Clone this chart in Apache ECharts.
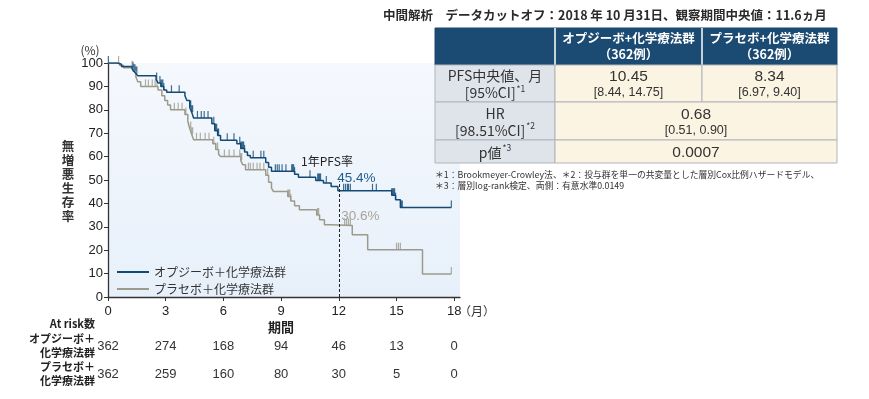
<!DOCTYPE html>
<html>
<head>
<meta charset="utf-8">
<script src="https://cdn.jsdelivr.net/npm/echarts@6/dist/echarts.min.js"></script>
<style>
  html, body { margin: 0; padding: 0; background: #fff; }
  #main { width: 869px; height: 399px; }
</style>
</head>
<body>
<div id="main"></div>
<script>
// 横軸（月）と At risk 数
const months = [0, 3, 6, 9, 12, 15, 18];
const nivoRisk = [362, 274, 168, 94, 46, 13, 0];
const placRisk = [362, 259, 160, 80, 30, 5, 0];

// オプジーボ+化学療法群 KM曲線（時点, 生存率%）
const nivoTime = [0, 0.5, 0.7, 1.25, 1.35, 1.45, 1.55, 2.5, 2.6, 2.75, 2.9, 3.05, 4.0, 4.1, 4.25, 4.35, 4.45,
  5.4, 5.55, 5.7, 5.85, 6.7, 6.9, 7.1, 7.25, 7.4, 8.2, 8.35, 8.5, 9.7, 9.9, 10.8, 11.2, 11.6, 11.95,
  14.75, 14.95, 15.2, 17.85];
const nivoSurv = [100, 99.5, 98.5, 97.5, 96.5, 95.5, 94.5, 93, 91.5, 90, 88.5, 87.5, 86, 84, 81, 79, 76.5,
  74, 71, 69, 67, 65.5, 63.5, 62, 60.5, 59.5, 57.5, 55.5, 53.7, 52.5, 51.2, 49.8, 48.7, 47.2, 45.4,
  43.5, 41.6, 38.2, 38.2];
const nivoCensor = [0.02, 1.3, 1.35, 1.4, 1.45, 1.5, 2.53, 2.7, 2.75, 2.8, 2.85, 2.9, 3.3, 3.7, 4.25, 4.3, 4.35,
  4.4, 4.65, 4.85, 5.0, 5.2, 5.5, 5.55, 5.6, 5.65, 5.7, 5.75, 6.2, 6.55, 6.85, 6.9, 6.95, 7.0, 7.05, 7.1,
  7.55, 7.95, 8.1, 8.7, 8.8, 8.9, 9.05, 9.25, 9.55, 9.6, 9.65, 9.7, 10.5, 10.9, 10.95, 11.0, 11.05, 11.35,
  12.25, 12.35, 12.45, 12.5, 12.6, 13.75, 13.95, 14.75, 14.8, 14.85, 14.9, 14.95, 15.25, 15.3, 17.85];

// プラセボ+化学療法群 KM曲線
const placTime = [0, 0.6, 0.8, 1.3, 1.45, 1.55, 1.7, 2.6, 2.8, 2.95, 3.1, 3.25, 4.0, 4.15, 4.25, 4.35, 4.45,
  5.45, 5.6, 5.75, 5.85, 6.9, 7.0, 7.15, 8.2, 8.35, 8.5, 8.6, 9.35, 9.5, 9.7, 9.95, 10.85, 11.0, 11.25, 11.6,
  12.7, 13.5, 16.35, 17.85];
const placSurv = [100, 99, 98, 96.5, 94, 92, 90, 88.5, 86, 84, 82, 80, 78, 75, 72, 69.5, 67.2,
  65.5, 63, 61, 60, 58.5, 56.5, 54.4, 52, 49, 46.5, 45.1, 43, 41, 39, 37.3, 35, 33, 30.9, 30.6,
  26.6, 20.2, 9.8, 9.8];
const placCensor = [0.55, 1.25, 1.3, 1.95, 2.1, 2.3, 2.45, 2.55, 3.45, 3.65, 3.85, 4.05, 4.3, 4.35, 4.4, 4.6,
  4.8, 5.05, 5.25, 5.5, 5.6, 5.7, 6.05, 6.3, 6.55, 6.85, 6.9, 6.95, 7.3, 7.4, 7.55, 7.75, 7.9, 8.1, 8.3,
  9.35, 9.4, 9.45, 9.5, 10.9, 10.95, 12.3, 12.4, 12.5, 12.6, 15.0, 15.1, 15.2, 17.85];

const pfs12 = [45.4, 30.6];

const NIVO = '#124a75';
const PLAC = '#9c9a8b';
const JP = '"Noto Sans CJK JP", sans-serif';
const NUM = '"Liberation Sans", Arial, sans-serif';

function zip(t, s) {
  return t.map((v, i) => [v, s[i]]);
}
function survAt(t, s, x) {
  let v = s[0];
  for (let i = 0; i < t.length; i++) {
    if (t[i] <= x) v = s[i];
  }
  return v;
}
function censorPoints(c, t, s) {
  return c.map((x) => [x, survAt(t, s, x)]);
}

// 右上の表
const colX = [435, 555, 702, 837];
const rowY = [28, 65, 102, 140, 163];
function cell(x0, x1, y0, y1, fill, stroke) {
  return {
    type: 'rect',
    shape: { x: x0, y: y0, width: x1 - x0, height: y1 - y0 },
    style: { fill: fill, stroke: stroke, lineWidth: 1 }
  };
}
function txt(x, y, text, rich, extra) {
  return {
    type: 'text', x: x, y: y,
    style: Object.assign({
      text: text, align: 'center', verticalAlign: 'middle',
      fontFamily: JP, fill: '#333', rich: rich || {}
    }, extra || {})
  };
}
const tableRich = {
  big: { fontSize: 15.5, fontFamily: NUM, fill: '#333', lineHeight: 17 },
  sm: { fontSize: 12.5, fontFamily: NUM, fill: '#333', lineHeight: 15 },
  lab: { fontSize: 14, fontFamily: JP, fill: '#333', lineHeight: 17 },
  sup: { fontSize: 8.5, fontFamily: JP, fill: '#333', verticalAlign: 'top', padding: [0, 0, 7, 1] }
};

const graphics = [];
// header
graphics.push(cell(colX[0], colX[3], rowY[0], rowY[1], '#1b4a72', '#1b4a72'));
graphics.push({ type: 'line', shape: { x1: colX[1], y1: rowY[0], x2: colX[1], y2: rowY[1] }, style: { stroke: '#fff', lineWidth: 1.5 } });
graphics.push({ type: 'line', shape: { x1: colX[2], y1: rowY[0], x2: colX[2], y2: rowY[1] }, style: { stroke: '#fff', lineWidth: 1.5 } });
// body
for (let r = 1; r < 4; r++) {
  graphics.push(cell(colX[0], colX[1], rowY[r], rowY[r + 1], '#dfe4ea', '#aeb5bd'));
  if (r === 1) {
    graphics.push(cell(colX[1], colX[2], rowY[r], rowY[r + 1], '#fcf4e2', '#aeb5bd'));
    graphics.push(cell(colX[2], colX[3], rowY[r], rowY[r + 1], '#fcf4e2', '#aeb5bd'));
  } else {
    graphics.push(cell(colX[1], colX[3], rowY[r], rowY[r + 1], '#fcf4e2', '#aeb5bd'));
  }
}
const hdrStyle = { fill: '#fff', fontSize: 12.5, fontWeight: 'bold', lineHeight: 16 };
graphics.push(txt((colX[1] + colX[2]) / 2, (rowY[0] + rowY[1]) / 2, 'オプジーボ+化学療法群\n（362例）', null, hdrStyle));
graphics.push(txt((colX[2] + colX[3]) / 2, (rowY[0] + rowY[1]) / 2, 'プラセボ+化学療法群\n（362例）', null, hdrStyle));

graphics.push(txt((colX[0] + colX[1]) / 2, (rowY[1] + rowY[2]) / 2 + 1, '{lab|PFS中央値、月}\n{lab|[95%CI]}{sup|*1}', tableRich));
graphics.push(txt((colX[1] + colX[2]) / 2, (rowY[1] + rowY[2]) / 2 + 1, '{big|10.45}\n{sm|[8.44, 14.75]}', tableRich));
graphics.push(txt((colX[2] + colX[3]) / 2, (rowY[1] + rowY[2]) / 2 + 1, '{big|8.34}\n{sm|[6.97, 9.40]}', tableRich));
graphics.push(txt((colX[0] + colX[1]) / 2, (rowY[2] + rowY[3]) / 2 + 1, '{lab|HR}\n{lab|[98.51%CI]}{sup|*2}', tableRich));
graphics.push(txt((colX[1] + colX[3]) / 2, (rowY[2] + rowY[3]) / 2 + 1, '{big|0.68}\n{sm|[0.51, 0.90]}', tableRich));
graphics.push(txt((colX[0] + colX[1]) / 2, (rowY[3] + rowY[4]) / 2 + 1, '{lab|p値}{sup|*3}', tableRich));
graphics.push(txt((colX[1] + colX[3]) / 2, (rowY[3] + rowY[4]) / 2 + 1, '{big|0.0007}', tableRich));

// 見出し・注釈
graphics.push(txt(383, 15, '中間解析　データカットオフ：2018 年 10 月31日、観察期間中央値：11.6ヵ月', null,
  { align: 'left', fontSize: 12.5, fontWeight: 'bold', fill: '#2a2a2a' }));
graphics.push(txt(435, 175, '＊1：Brookmeyer-Crowley法、＊2：投与群を単一の共変量とした層別Cox比例ハザードモデル、', null,
  { align: 'left', fontSize: 8.8, fill: '#333' }));
graphics.push(txt(435, 186, '＊3：層別log-rank検定、両側：有意水準0.0149', null,
  { align: 'left', fontSize: 8.8, fill: '#333' }));

// 軸まわりの文字
graphics.push(txt(90, 50, '(%)', null, { fontSize: 12, fill: '#333' }));
graphics.push(txt(68, 181, '無\n増\n悪\n生\n存\n率', null, { fontSize: 12.5, fontWeight: 'bold', lineHeight: 14, fill: '#333' }));
graphics.push(txt(477, 311, '（月）', null, { fontSize: 12, fill: '#333' }));
graphics.push(txt(281, 327, '期間', null, { fontSize: 13, fontWeight: 'bold', fill: '#222' }));
graphics.push(txt(95, 324, 'At risk数', null, { align: 'right', fontSize: 11, fontWeight: 'bold', fill: '#222' }));
graphics.push(txt(95, 346, 'オプジーボ＋\n化学療法群', null, { align: 'right', fontSize: 11, fontWeight: 'bold', lineHeight: 14, fill: '#222' }));
graphics.push(txt(95, 374, 'プラセボ＋\n化学療法群', null, { align: 'right', fontSize: 11, fontWeight: 'bold', lineHeight: 14, fill: '#222' }));
graphics.push(txt(327, 161, '1年PFS率', null, { fontSize: 12, fill: '#222' }));

const chart = echarts.init(document.getElementById('main'), null, { renderer: 'canvas' });

function riskAxis(offset, counts) {
  return {
    type: 'value', min: 0, max: 18.3, position: 'bottom', offset: offset,
    axisLine: { show: false }, axisTick: { show: false }, splitLine: { show: false },
    axisLabel: {
      customValues: months, margin: 8, fontSize: 13, fontFamily: NUM, color: '#333',
      formatter: (v) => String(counts[months.indexOf(v)])
    }
  };
}

const option = {
  animation: false,
  backgroundColor: '#fff',
  grid: {
    left: 108, top: 63, width: 352, height: 234, show: true, borderWidth: 0,
    backgroundColor: new echarts.graphic.LinearGradient(0, 0, 0, 1, [
      { offset: 0, color: '#f5f8fd' },
      { offset: 1, color: '#e7f0fa' }
    ])
  },
  legend: {
    orient: 'vertical', left: 112, top: 260, itemGap: 3,
    icon: 'rect', itemWidth: 32, itemHeight: 2,
    textStyle: { fontFamily: JP, fontSize: 12, color: '#333', lineHeight: 14 },
    data: ['オプジーボ＋化学療法群', 'プラセボ＋化学療法群']
  },
  xAxis: [
    {
      type: 'value', min: 0, max: 18.3,
      axisLine: { lineStyle: { color: '#333', width: 1.3 } },
      axisTick: { customValues: months, length: 4, lineStyle: { color: '#333' } },
      axisLabel: { customValues: months, margin: 8, fontSize: 13, fontFamily: NUM, color: '#222' },
      splitLine: { show: false }
    },
    riskAxis(35, nivoRisk),
    riskAxis(63, placRisk)
  ],
  yAxis: {
    type: 'value', min: 0, max: 100, interval: 10,
    axisLine: { show: true, lineStyle: { color: '#333', width: 1.3 } },
    axisTick: { show: true, length: 4, lineStyle: { color: '#333' } },
    axisLabel: { margin: 5, fontSize: 13, fontFamily: NUM, color: '#222' },
    splitLine: { show: false }
  },
  series: [
    {
      name: 'プラセボ＋化学療法群', type: 'line', step: 'end', showSymbol: false,
      data: zip(placTime, placSurv),
      lineStyle: { color: PLAC, width: 1.5 }, itemStyle: { color: PLAC },
      markPoint: {
        symbol: 'circle', symbolSize: 1, itemStyle: { color: 'rgba(0,0,0,0)' },
        data: [{ coord: [12, pfs12[1]], name: pfs12[1].toFixed(1) + '%' }],
        label: { show: true, position: 'right', distance: 0, offset: [2, -9], formatter: '{b}',
          fontSize: 13.5, fontFamily: NUM, color: '#a8a596' }
      }
    },
    {
      name: 'オプジーボ＋化学療法群', type: 'line', step: 'end', showSymbol: false,
      data: zip(nivoTime, nivoSurv),
      lineStyle: { color: NIVO, width: 1.5 }, itemStyle: { color: NIVO },
      markLine: {
        silent: true, symbol: 'none',
        lineStyle: { color: '#222', type: [3, 2], width: 1 },
        label: { show: false },
        data: [[{ coord: [12, 0] }, { coord: [12, 49.5] }]]
      },
      markPoint: {
        symbol: 'circle', symbolSize: 1, itemStyle: { color: 'rgba(0,0,0,0)' },
        data: [{ coord: [12, pfs12[0]], name: pfs12[0].toFixed(1) + '%' }],
        label: { show: true, position: 'right', distance: 0, offset: [-2, -12], formatter: '{b}',
          fontSize: 13.5, fontFamily: NUM, color: '#1f5c8c' }
      }
    },
    {
      name: 'censor-plac', type: 'scatter', data: censorPoints(placCensor, placTime, placSurv),
      symbol: 'rect', symbolSize: [1.2, 7], symbolOffset: [0, -3.5], itemStyle: { color: PLAC }
    },
    {
      name: 'censor-nivo', type: 'scatter', data: censorPoints(nivoCensor, nivoTime, nivoSurv),
      symbol: 'rect', symbolSize: [1.2, 7], symbolOffset: [0, -3.5], itemStyle: { color: NIVO }
    }
  ],
  graphic: graphics
};

chart.setOption(option);
</script>
</body>
</html>
